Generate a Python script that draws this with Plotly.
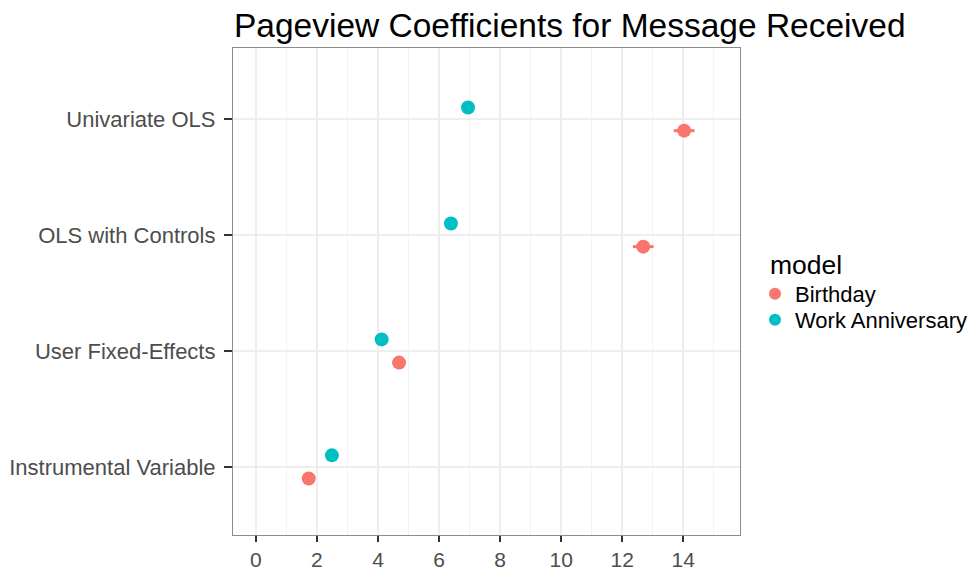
import plotly.graph_objects as go

categories = ["Instrumental Variable", "User Fixed-Effects", "OLS with Controls", "Univariate OLS"]
birthday_coef = [1.73, 4.69, 12.69, 14.03]
birthday_err = [0.15, 0.15, 0.34, 0.34]
work_coef = [2.49, 4.12, 6.39, 6.95]
work_err = [0.12, 0.12, 0.15, 0.15]
x_ticks = [0, 2, 4, 6, 8, 10, 12, 14]

pos = list(range(1, len(categories) + 1))
dodge = 0.1

# page body has an 8px margin, so the figure is sized to fit the window
W, H = 967, 565

fig = go.Figure()
fig.add_trace(go.Scatter(
    x=birthday_coef, y=[p - dodge for p in pos], mode="markers", name="Birthday",
    marker=dict(color="#F8766D", size=14), legend="legend",
    error_x=dict(type="data", array=birthday_err, color="#F8766D", thickness=3, width=0),
))
fig.add_trace(go.Scatter(
    x=work_coef, y=[p + dodge for p in pos], mode="markers", name="Work Anniversary",
    marker=dict(color="#00BFC4", size=14), legend="legend2",
    error_x=dict(type="data", array=work_err, color="#00BFC4", thickness=3, width=0),
))

font_family = "Liberation Sans, Arial, sans-serif"
legend_common = dict(xref="container", yref="container", x=0.7725, xanchor="left",
                     yanchor="middle", font=dict(size=22, color="black"),
                     itemsizing="constant", itemwidth=30, bgcolor="rgba(0,0,0,0)")
fig.update_layout(
    width=W, height=H,
    margin=dict(l=225, r=235, t=40, b=38, autoexpand=False),
    paper_bgcolor="white", plot_bgcolor="white",
    font=dict(family=font_family, color="#4D4D4D"),
    title=dict(text="Pageview Coefficients for Message Received", x=0.2337, xanchor="left",
               y=0.970, yanchor="middle", font=dict(size=33.5, color="black")),
    legend=dict(y=0.4938, **legend_common),
    legend2=dict(y=0.4478, **legend_common),
    showlegend=True,
    annotations=[dict(text="model", xref="paper", yref="paper",
                      x=(760 - 225) / 507, xanchor="left",
                      y=1 - (257 - 40) / 487, yanchor="middle",
                      showarrow=False, font=dict(size=26.5, color="black"))],
)
fig.update_xaxes(
    range=[-0.75, 15.86], tickvals=x_ticks, ticktext=[str(v) for v in x_ticks],
    showgrid=True, gridcolor="#EEEEEE", gridwidth=1.5,
    minor=dict(dtick=1, tick0=0, showgrid=True, gridcolor="#F3F3F3", gridwidth=1.2),
    ticks="outside", ticklen=6, tickcolor="#333333", tickwidth=1.5,
    tickfont=dict(size=21, color="#4D4D4D"), automargin=False,
    showline=True, linecolor="#8C8C8C", linewidth=1.2, mirror=True, zeroline=False,
)
fig.update_yaxes(
    range=[0.413, 4.613], tickvals=pos, ticktext=categories,
    showgrid=True, gridcolor="#EEEEEE", gridwidth=1.5,
    ticks="outside", ticklen=8, tickcolor="#333333", tickwidth=1.5, ticklabelstandoff=4,
    tickfont=dict(size=22, color="#4D4D4D"), automargin=False,
    showline=True, linecolor="#8C8C8C", linewidth=1.2, mirror=True, zeroline=False,
)

fig.write_html("out.html")
